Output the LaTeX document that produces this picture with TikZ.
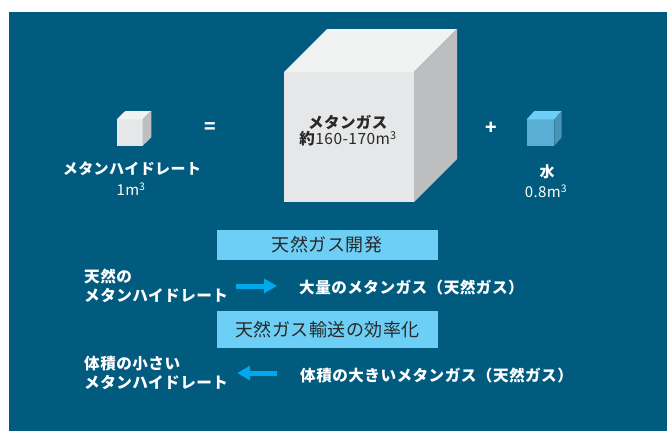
\documentclass[tikz,border=0pt]{standalone}
\usepackage{fontspec}
\setmainfont{Noto Sans CJK JP}[LetterSpace=3]
\usetikzlibrary{arrows.meta, positioning}

\definecolor{deepsea}{RGB}{0,91,126}
\definecolor{skyband}{RGB}{109,207,246}
\definecolor{flowblue}{RGB}{0,169,236}
\definecolor{inktext}{RGB}{40,40,40}
\definecolor{icefront}{RGB}{230,231,232}
\definecolor{icetop}{RGB}{241,242,242}
\definecolor{iceside}{RGB}{188,190,192}
\definecolor{waterfront}{RGB}{90,176,212}
\definecolor{watertop}{RGB}{109,207,246}
\definecolor{waterside}{RGB}{74,147,180}

\begin{document}
\begin{tikzpicture}[x=1pt, y=-1pt,
    caption/.style={text=white, inner sep=0pt, font=\bfseries\fontsize{15}{18.5}\selectfont},
    volume/.style={text=white, inner sep=0pt, font=\fontsize{15}{17}\selectfont},
    sign/.style={text=white, inner sep=0pt, font=\bfseries\fontsize{19}{20}\selectfont},
    banner/.style={rectangle, fill=skyband, minimum width=221pt, minimum height=#1, inner sep=0pt, text=inktext, font=\fontsize{18}{20}\selectfont},
    sidetext/.style={text=white, inner sep=0pt, align=left, anchor=west, font=\bfseries\fontsize{15.6}{18.5}\selectfont},
    arrow/.style={draw=flowblue, line width=5pt, -{Triangle[length=13pt, width=14pt]}}]

    \useasboundingbox (0,0) rectangle (672,431);
    \fill[deepsea] (8.5,11.5) rectangle (667,431);

    % small hydrate block
    \fill[icefront] (116.7,119.3) rectangle (142.7,145.7);
    \fill[icetop] (116.7,119.3) -- (125.3,111) -- (151.3,111) -- (142.7,119.3) -- cycle;
    \fill[iceside] (142.7,119.3) -- (151.3,111) -- (151.3,137.4) -- (142.7,145.7) -- cycle;

    % big methane block
    \fill[icefront] (284,72) rectangle (414,202);
    \fill[icetop] (284,72) -- (327,29) -- (457,29) -- (414,72) -- cycle;
    \fill[iceside] (414,72) -- (457,29) -- (457,159) -- (414,202) -- cycle;

    % water block
    \fill[waterfront] (526.7,119.3) rectangle (554.3,145.7);
    \fill[watertop] (526.7,119.3) -- (534.3,111) -- (561.7,111) -- (554.3,119.3) -- cycle;
    \fill[waterside] (554.3,119.3) -- (561.7,111) -- (561.7,137.4) -- (554.3,145.7) -- cycle;

    \node [caption] (hydrate) at (132,169) {メタンハイドレート};
    \node [volume] (hydratevol) at (131,189) {1m\textsuperscript{3}};
    \node [sign] (equals) at (210,128) {=};
    \node [text=inktext, align=center, inner sep=0pt, font=\fontsize{15.5}{16}\selectfont] (methane) at (348,131)
        {\textbf{\fontsize{15.5}{16}\selectfont メタンガス}\\\textbf{約}160-170m\textsuperscript{3}};
    \node [sign] (plus) at (491,128) {+};
    \node [caption] (water) at (547,172) {水};
    \node [volume] (watervol) at (546,191) {0.8m\textsuperscript{3}};

    \node [banner=30pt] (develop) at (327.2,245) {天然ガス開発};
    \node [sidetext] (natural) at (84,286) {天然の\\メタンハイドレート};
    \node [sidetext] (bulkgas) at (299,288) {大量のメタンガス（天然ガス）};

    \node [banner=37pt] (transport) at (327.5,329.2) {天然ガス輸送の効率化};
    \node [sidetext] (compact) at (84,373) {体積の小さい\\メタンハイドレート};
    \node [sidetext] (largegas) at (300,376) {体積の大きいメタンガス（天然ガス）};

    \draw [arrow, shorten <=8pt, shorten >=22pt] (natural.east) -- (natural.east -| bulkgas.west);
    \draw [arrow, shorten <=23pt, shorten >=9pt] (compact.east -| largegas.west) -- (compact.east);
\end{tikzpicture}
\end{document}
